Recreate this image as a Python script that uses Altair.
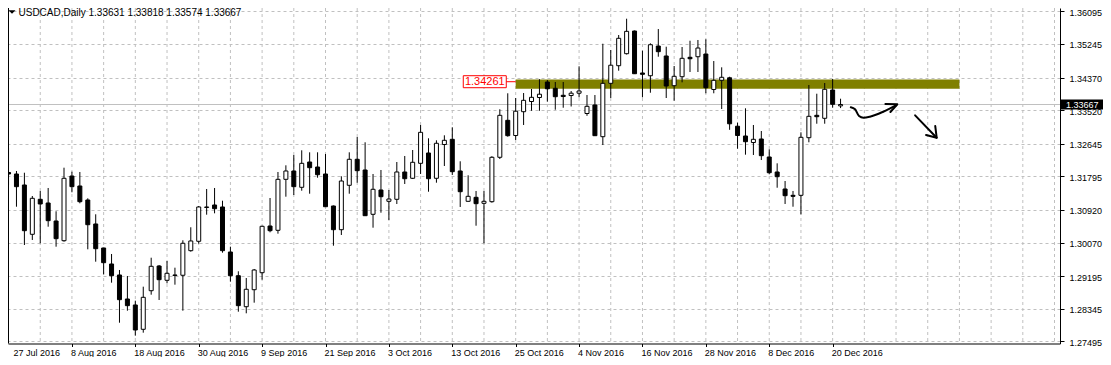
import altair as alt
import pandas as pd

# ---------------- data (USDCAD daily) ----------------
open_ = [1.31895, 1.31856, 1.31569, 1.30284, 1.31196, 1.31100, 1.30631, 1.30117, 1.31803, 1.31543,
         1.31178, 1.30553, 1.29927, 1.29510, 1.29224, 1.28598, 1.28442, 1.27808, 1.28814, 1.29458,
         1.29085, 1.29211, 1.29216, 1.29857, 1.30102, 1.30983, 1.31048, 1.30996, 1.29823, 1.29205,
         1.28397, 1.28840, 1.29283, 1.30500, 1.30388, 1.31717, 1.31934, 1.31509, 1.32168, 1.32038,
         1.31856, 1.31022, 1.30404, 1.31561, 1.32239, 1.31960, 1.30805, 1.31439, 1.31144, 1.31196,
         1.31908, 1.31744, 1.32134, 1.32403, 1.31744, 1.32624, 1.32760, 1.31934, 1.31144, 1.31248,
         1.31092, 1.31134, 1.32291, 1.33255, 1.32859, 1.33479, 1.33745, 1.33849, 1.34253, 1.34089,
         1.33907, 1.33901, 1.33961, 1.33432, 1.33654, 1.32828, 1.34219, 1.34678, 1.34991, 1.35582,
         1.34488, 1.34417, 1.35191, 1.34931, 1.34157, 1.34391, 1.34897, 1.34912, 1.34983, 1.34058,
         1.34297, 1.34363, 1.33101, 1.32846, 1.32676, 1.32768, 1.32299, 1.31908, 1.31465, 1.31300,
         1.31300, 1.32802, 1.33385, 1.33307, 1.34045, 1.33631]
high = [1.32533, 1.31934, 1.31889, 1.31282, 1.31413, 1.31491, 1.30884, 1.32020, 1.31916, 1.31908,
        1.31222, 1.30805, 1.29935, 1.29771, 1.29354, 1.29197, 1.28554, 1.28919, 1.29674, 1.29484,
        1.29588, 1.29414, 1.30128, 1.30467, 1.31022, 1.31465, 1.31491, 1.31160, 1.29961, 1.29320,
        1.29145, 1.29380, 1.30508, 1.31230, 1.31908, 1.32082, 1.32351, 1.32473, 1.32421, 1.32421,
        1.32377, 1.31035, 1.31796, 1.32421, 1.32820, 1.32682, 1.31856, 1.31960, 1.31439, 1.32168,
        1.32325, 1.32481, 1.33133, 1.32786, 1.32734, 1.32864, 1.33073, 1.32187, 1.31822, 1.31413,
        1.31413, 1.32319, 1.33542, 1.33959, 1.33836, 1.33966, 1.34071, 1.34326, 1.34305, 1.34253,
        1.34253, 1.34019, 1.34662, 1.33914, 1.33914, 1.35251, 1.35087, 1.35478, 1.35903, 1.35595,
        1.35069, 1.35262, 1.35634, 1.35173, 1.34670, 1.35165, 1.35329, 1.35348, 1.35366, 1.34800,
        1.34636, 1.34391, 1.33192, 1.33568, 1.33133, 1.32976, 1.32499, 1.32134, 1.31673, 1.31413,
        1.32942, 1.34175, 1.33948, 1.34227, 1.34331, 1.33818]
low = [1.31569, 1.31003, 1.30005, 1.30136, 1.30050, 1.30482, 1.29961, 1.30091, 1.31379, 1.31092,
       1.29893, 1.29570, 1.29242, 1.29023, 1.27980, 1.28293, 1.27642, 1.27720, 1.28710, 1.28572,
       1.29007, 1.28971, 1.28293, 1.29831, 1.30039, 1.30795, 1.30831, 1.29805, 1.29049, 1.28267,
       1.28225, 1.28502, 1.29101, 1.30336, 1.30300, 1.31264, 1.31308, 1.31420, 1.31342, 1.31759,
       1.30996, 1.29987, 1.30266, 1.31342, 1.31629, 1.30761, 1.30456, 1.30847, 1.30657, 1.31074,
       1.31595, 1.31725, 1.31856, 1.31394, 1.31629, 1.32064, 1.31830, 1.30996, 1.31134, 1.30508,
       1.30050, 1.31108, 1.32246, 1.32828, 1.32742, 1.33133, 1.33503, 1.33503, 1.33740, 1.33531,
       1.33583, 1.33615, 1.33854, 1.33372, 1.32846, 1.32611, 1.33836, 1.34548, 1.34970, 1.34462,
       1.33854, 1.33974, 1.34912, 1.33836, 1.33766, 1.34245, 1.34514, 1.34514, 1.33959, 1.33959,
       1.33549, 1.33007, 1.32515, 1.32359, 1.32351, 1.32220, 1.31848, 1.31498, 1.31074, 1.31003,
       1.30805, 1.32682, 1.33166, 1.33166, 1.33583, 1.33574]
close = [1.31856, 1.31525, 1.30378, 1.31222, 1.31074, 1.30639, 1.30170, 1.31744, 1.31525, 1.31134,
         1.30534, 1.29909, 1.29544, 1.29205, 1.28580, 1.28424, 1.27790, 1.28642, 1.29450, 1.29101,
         1.29268, 1.29224, 1.30050, 1.30110, 1.30996, 1.30996, 1.30951, 1.29857, 1.29205, 1.28424,
         1.28851, 1.29354, 1.30493, 1.30378, 1.31717, 1.31934, 1.31525, 1.32134, 1.32020, 1.31837,
         1.31003, 1.30404, 1.31673, 1.32239, 1.31942, 1.30769, 1.31457, 1.31264, 1.31204, 1.31908,
         1.31733, 1.32161, 1.32942, 1.31733, 1.32656, 1.32734, 1.31916, 1.31394, 1.31274, 1.31082,
         1.31144, 1.32291, 1.33385, 1.32854, 1.33492, 1.33776, 1.33854, 1.33935, 1.34076, 1.33870,
         1.33875, 1.33961, 1.34019, 1.33620, 1.32854, 1.34219, 1.34691, 1.35392, 1.35574, 1.34469,
         1.34454, 1.35225, 1.35043, 1.34149, 1.34402, 1.34871, 1.34860, 1.35139, 1.34105, 1.34297,
         1.34376, 1.33164, 1.32859, 1.32697, 1.32760, 1.32333, 1.31889, 1.31785, 1.31290, 1.31274,
         1.32812, 1.33359, 1.33349, 1.34063, 1.33672, 1.33667]

y_tick_prices = [1.36095, 1.35245, 1.34370, 1.33520, 1.32645, 1.31795,
                 1.30920, 1.30070, 1.29195, 1.28345, 1.27495]
date_labels = ["27 Jul 2016", "8 Aug 2016", "18 Aug 2016", "30 Aug 2016", "9 Sep 2016",
               "21 Sep 2016", "3 Oct 2016", "13 Oct 2016", "25 Oct 2016", "4 Nov 2016",
               "16 Nov 2016", "28 Nov 2016", "8 Dec 2016", "20 Dec 2016"]
date_label_bars = [0, 8, 16, 24, 32, 40, 48, 56, 64, 72, 80, 88, 96, 104]
grid_bars = list(range(4, 133, 4))

title_text = "USDCAD,Daily  1.33631 1.33818 1.33574 1.33667"
last_price = 1.33667
last_price_text = "1.33667"

# resistance zone
zone_start, zone_end = 64, 120
zone_low, zone_high = 1.34080, 1.34320
zone_label_bar = 60.1
zone_label_price = 1.34261
zone_label_text = "1.34261"
zone_link_bars = [62.8, 64.0]

# hand-drawn arrows (bar index, price)
arrow_curve_i = [106.29, 106.83, 107.33, 107.88, 108.70, 110.38, 112.04]
arrow_curve_p = [1.33594, 1.33542, 1.33367, 1.33323, 1.33349, 1.33479, 1.33654]
arrow_head1_i = [110.66, 112.16, 111.29]
arrow_head1_p = [1.33680, 1.33672, 1.33471]
arrow_line2_i = [114.41, 117.13]
arrow_line2_p = [1.33385, 1.32802]
arrow_head2_i = [116.95, 117.13, 115.79]
arrow_head2_p = [1.33106, 1.32802, 1.32872]

# ---------------- layout ----------------
W = 1052
H = 335.5
FONT = "Liberation Sans"

candles = pd.DataFrame({"i": list(range(len(open_))), "o": open_, "h": high, "l": low, "c": close})
candles["fill"] = ["#ffffff" if c > o else "#000000" for o, c in zip(open_, close)]

xs = alt.Scale(domain=[0.5625, 0.5625 + W / 8.0], nice=False, zero=False)
ys = alt.Scale(domain=[1.27438, 1.36182], nice=False, zero=False)

x_axis = alt.Axis(values=date_label_bars[1:], labels=False, grid=False, tickSize=3,
                  tickColor="#000000", domainColor="#000000", title=None)
y_axis = alt.Axis(orient="right", values=y_tick_prices, format=".5f", title=None,
                  grid=True, gridColor="#c0c0c0", gridDash=[3, 3], gridWidth=1,
                  domainColor="#000000", tickColor="#000000", tickSize=4,
                  labelFont=FONT, labelFontSize=9, labelColor="#000000",
                  labelPadding=5, labelOffset=1)

X = lambda f: alt.X(f, scale=xs, axis=x_axis)
Y = lambda f: alt.Y(f, scale=ys, axis=y_axis)

vgrid = alt.Chart(pd.DataFrame({"g": grid_bars})).mark_rule(
    color="#c0c0c0", strokeDash=[3, 3], strokeWidth=1).encode(x=X("g:Q"))

left_frame = alt.Chart(pd.DataFrame({"a": [0]})).mark_rule(color="#000000").encode(x=alt.value(0.5))

zone = alt.Chart(pd.DataFrame({"a": [zone_start], "b": [zone_end], "lo": [zone_low], "hi": [zone_high]})
                 ).mark_rect(color="#808000", opacity=1).encode(x=X("a:Q"), x2="b:Q", y=Y("lo:Q"), y2="hi:Q")

price_line = alt.Chart(pd.DataFrame({"p": [last_price]})).mark_rule(
    color="#c0c0c0", strokeWidth=1).encode(y=Y("p:Q"))

wicks = alt.Chart(candles).mark_rule(color="#000000", strokeWidth=1).encode(
    x=X("i:Q"), y=Y("l:Q"), y2="h:Q")

bodies = alt.Chart(candles).mark_bar(width=4, stroke="#000000", strokeWidth=1, orient="vertical").encode(
    x=X("i:Q"), y=Y("o:Q"), y2="c:Q", fill=alt.Fill("fill:N", scale=None))

link = alt.Chart(pd.DataFrame({"a": [zone_link_bars[0]], "b": [zone_link_bars[1]], "p": [zone_label_price]})
                 ).mark_rule(color="#ff0000", strokeWidth=1).encode(x=X("a:Q"), x2="b:Q", y=Y("p:Q"))

lab_df = pd.DataFrame({"i": [zone_label_bar], "p": [zone_label_price], "t": [zone_label_text]})
lab_box = alt.Chart(lab_df).mark_point(shape="M-1,-0.279H1V0.279H-1Z", size=1849, filled=True,
                                       fill="#ffffff", stroke="#ff0000", strokeWidth=1, opacity=1
                                       ).encode(x=X("i:Q"), y=Y("p:Q"))
lab_txt = alt.Chart(lab_df).mark_text(font=FONT, fontSize=11, color="#ff0000", align="center",
                                      baseline="middle", dy=0.5).encode(x=X("i:Q"), y=Y("p:Q"), text="t:N")

curve_df = pd.DataFrame({"i": arrow_curve_i, "p": arrow_curve_p, "o": list(range(len(arrow_curve_i)))})
curve = alt.Chart(curve_df).mark_line(color="#000000", strokeWidth=2, interpolate="monotone",
                                      strokeCap="round", strokeJoin="round").encode(
    x=X("i:Q"), y=Y("p:Q"), order="o:Q")

segs = []
for name, ii, pp in [("h1", arrow_head1_i, arrow_head1_p), ("l2", arrow_line2_i, arrow_line2_p),
                     ("h2", arrow_head2_i, arrow_head2_p)]:
    for k, (a, b) in enumerate(zip(ii, pp)):
        segs.append({"seg": name, "o": k, "i": a, "p": b})
straight = alt.Chart(pd.DataFrame(segs)).mark_line(color="#000000", strokeWidth=2,
                                                   strokeCap="round", strokeJoin="round").encode(
    x=X("i:Q"), y=Y("p:Q"), detail="seg:N", order="o:Q")

px_df = pd.DataFrame({"p": [last_price], "t": [last_price_text]})
px_box = alt.Chart(px_df).mark_point(shape="M-1,-0.24H1V0.24H-1Z", size=1764, filled=True,
                                     fill="#000000", stroke="#000000", strokeWidth=0, opacity=1
                                     ).encode(x=alt.value(W + 22), y=Y("p:Q"))
px_txt = alt.Chart(px_df).mark_text(font=FONT, fontSize=9, color="#ffffff", align="left",
                                    baseline="middle", dy=0.5).encode(x=alt.value(W + 6), y=Y("p:Q"), text="t:N")

dl_df = pd.DataFrame({"i": date_label_bars, "t": date_labels})
date_txt = alt.Chart(dl_df).transform_calculate(ix="max(datum.i, 0.75)").mark_text(
    font=FONT, fontSize=9, color="#000000", align="left", baseline="alphabetic", dx=-1).encode(
    x=X("ix:Q"), y=alt.value(H + 12.8), text="t:N")

title_df = pd.DataFrame({"t": [title_text]})
title = alt.Chart(title_df).mark_text(font=FONT, fontSize=10, color="#000000", align="left",
                                      baseline="alphabetic").encode(x=alt.value(10.5), y=alt.value(8), text="t:N")
tri = alt.Chart(title_df).mark_point(shape="M-1,-0.5L1,-0.5L0,0.5Z", size=49, filled=True,
                                     fill="#000000", opacity=1).encode(x=alt.value(4), y=alt.value(4))

chart = alt.layer(
    vgrid, zone, price_line, wicks, bodies, link, lab_box, lab_txt, curve, straight,
    px_box, px_txt, date_txt, title, tri, left_frame
).properties(
    width=W, height=H,
    autosize=alt.AutoSizeParams(type="none"),
    padding={"left": 0, "top": 0, "right": 43, "bottom": 13.5},
    background="#ffffff",
).configure_view(stroke=None)

chart.save("out.html", embed_options={"renderer": "svg", "actions": False})
